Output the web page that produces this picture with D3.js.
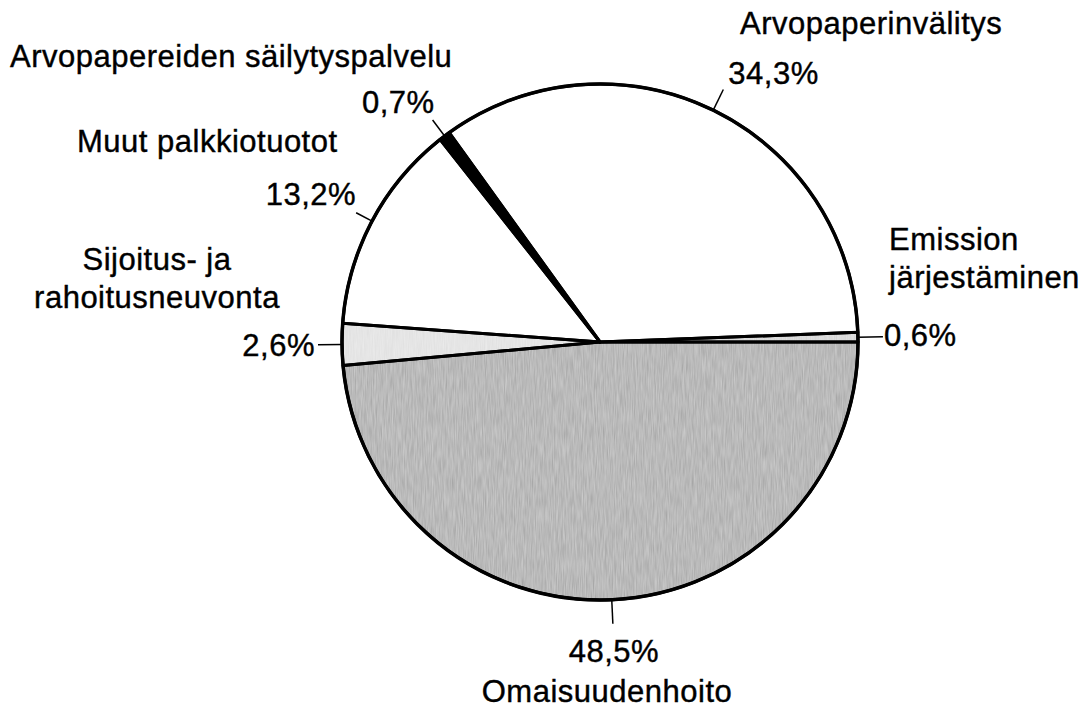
<!DOCTYPE html>
<html>
<head>
<meta charset="utf-8">
<script src="https://cdn.jsdelivr.net/npm/d3@7"></script>
<style>
  body { margin: 0; background: #fff; }
  svg { display: block; }
  text { font-family: "Liberation Sans", Arial, sans-serif; font-size: 31px; letter-spacing: 0.5px;
         fill: #000; stroke: #000; stroke-width: 0.4px; }
</style>
</head>
<body>
<div id="chart"></div>
<script>
// slices in drawing order, clockwise starting at 3 o'clock
var categories = ["Omaisuudenhoito", "Sijoitus- ja rahoitusneuvonta", "Muut palkkiotuotot",
                  "Arvopapereiden säilytyspalvelu", "Arvopaperinvälitys", "Emission järjestäminen"];
var shares = [48.5, 2.6, 13.2, 0.7, 34.3, 0.6];
var shareLabels = ["48,5%", "2,6%", "13,2%", "0,7%", "34,3%", "0,6%"];
var fills = ["#a2a2a2", "#dedede", "#ffffff", "#000000", "#ffffff", "#d0d0d0"];

var width = 1085, height = 709;
var cx = 600, cy = 342, r = 258;

var svg = d3.select("#chart").append("svg")
    .attr("width", width)
    .attr("height", height);

// grainy print look for the grey slices
var defs = svg.append("defs");
var f = defs.append("filter").attr("id", "grain").attr("x", 0).attr("y", 0).attr("width", 1).attr("height", 1);
f.append("feTurbulence").attr("type", "fractalNoise").attr("baseFrequency", "0.9 0.06").attr("numOctaves", 2).attr("seed", 3).attr("result", "noise");
f.append("feColorMatrix").attr("in", "noise").attr("type", "matrix")
    .attr("values", "0 0 0 0 1  0 0 0 0 1  0 0 0 0 1  0 0 0 0.4 0").attr("result", "spec");
f.append("feComposite").attr("in", "spec").attr("in2", "SourceGraphic").attr("operator", "atop");

var pie = d3.pie().sort(null).value(function (d) { return d; })
    .startAngle(Math.PI / 2).endAngle(Math.PI / 2 + 2 * Math.PI);
var arcs = pie(shares);

var arc = d3.arc().innerRadius(0).outerRadius(r);
var g = svg.append("g").attr("transform", "translate(" + cx + "," + cy + ")");

// fills first (textured), then outlines on top
g.selectAll("path.fill").data(arcs).enter().append("path")
    .attr("class", "fill")
    .attr("d", arc)
    .attr("fill", function (d, i) { return fills[i]; })
    .attr("filter", function (d, i) { return (i === 0 || i === 1 || i === 5) ? "url(#grain)" : null; });

g.selectAll("path.edge").data(arcs).enter().append("path")
    .attr("class", "edge")
    .attr("d", arc)
    .attr("fill", "none")
    .attr("stroke", "#000")
    .attr("stroke-width", 3)
    .attr("stroke-linejoin", "round");

g.append("circle").attr("r", r).attr("fill", "none").attr("stroke", "#000").attr("stroke-width", 3.5);

// radial leader lines from the rim
var leaderLen = [24, 24, 18, 20, 23, 25];
function onRing(d, rad) {
    var a = (d.startAngle + d.endAngle) / 2;
    return [rad * Math.sin(a), -rad * Math.cos(a)];
}
g.selectAll("line.leader").data(arcs).enter().append("line")
    .attr("class", "leader")
    .attr("x1", function (d) { return onRing(d, r)[0]; })
    .attr("y1", function (d) { return onRing(d, r)[1]; })
    .attr("x2", function (d, i) { return onRing(d, r + leaderLen[i])[0]; })
    .attr("y2", function (d, i) { return onRing(d, r + leaderLen[i])[1]; })
    .attr("stroke", "#000")
    .attr("stroke-width", 1.5);

// percentage labels, offset from the leader end
var pctOffset = [[1, 38, "middle"], [-3, 11, "end"], [0, -8, "end"], [2, -7, "end"], [5, -6, "start"], [1, 9, "start"]];
g.selectAll("text.pct").data(arcs).enter().append("text")
    .attr("class", "pct")
    .attr("x", function (d, i) { return onRing(d, r + leaderLen[i])[0] + pctOffset[i][0]; })
    .attr("y", function (d, i) { return onRing(d, r + leaderLen[i])[1] + pctOffset[i][1]; })
    .attr("text-anchor", function (d, i) { return pctOffset[i][2]; })
    .text(function (d, i) { return shareLabels[i]; });

// category names
var nameLayout = [
    { lines: ["Omaisuudenhoito"], x: 607, y: 702, anchor: "middle" },
    { lines: ["Sijoitus- ja", "rahoitusneuvonta"], x: 157, y: 270, anchor: "middle" },
    { lines: ["Muut palkkiotuotot"], x: 77, y: 152, anchor: "start" },
    { lines: ["Arvopapereiden säilytyspalvelu"], x: 10, y: 67, anchor: "start" },
    { lines: ["Arvopaperinvälitys"], x: 740, y: 34, anchor: "start" },
    { lines: ["Emission", "järjestäminen"], x: 889, y: 250, anchor: "start" }
];
nameLayout.forEach(function (n) {
    var t = svg.append("text").attr("x", n.x).attr("y", n.y).attr("text-anchor", n.anchor);
    n.lines.forEach(function (l, k) {
        t.append("tspan").attr("x", n.x).attr("dy", k === 0 ? 0 : 38).text(l);
    });
});
</script>
</body>
</html>
